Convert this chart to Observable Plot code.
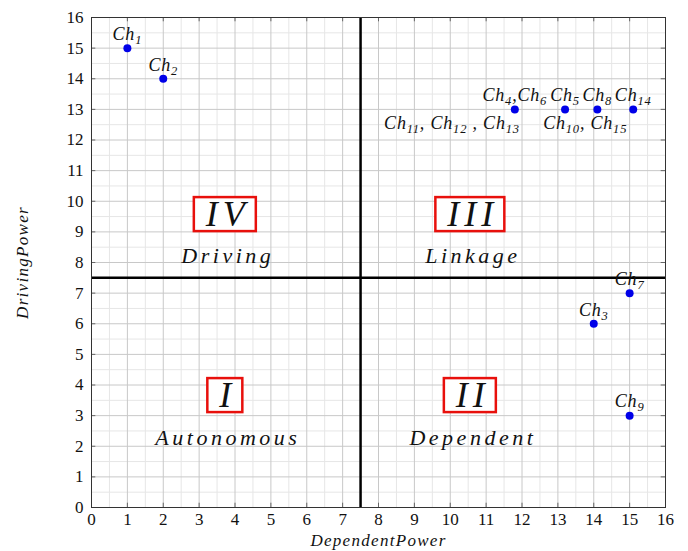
<!DOCTYPE html>
<html><head><meta charset="utf-8">
<script src="https://cdn.jsdelivr.net/npm/d3@7"></script>
<script src="https://cdn.jsdelivr.net/npm/@observablehq/plot@0.6"></script>
<style>
body{margin:0;background:#fff;}
#chart{width:688px;height:551px;}
</style></head><body><div id="chart"></div>
<script>
// ---- data ----
const chLabels      = ["Ch1","Ch2","Ch3","Ch4,Ch6","Ch5","Ch7","Ch8","Ch9","Ch14"];
const dependentPower = [1, 2, 14, 11.8, 13.2, 15, 14.1, 15, 15.1];
const drivingPower   = [15, 14, 6, 13, 13, 7, 13, 3, 13];

const sharedLabels = ["Ch11, Ch12 , Ch13", "Ch10, Ch15"];
const sharedX = [11.8, 15.1];
const sharedY = [13, 13];

const quadrantNumerals = ["IV", "III", "I", "II"];
const quadrantNames    = ["Driving", "Linkage", "Autonomous", "Dependent"];
const quadrantX        = [3.8, 10.63, 3.8, 10.63];
const numeralY         = [9.57, 9.57, 3.66, 3.66];
const nameY            = [8.2, 8.2, 2.28, 2.28];

const threshold = 7.5;
const majorTicks = [0,1,2,3,4,5,6,7,8,9,10,11,12,13,14,15,16];
const minorTicks = [0.5,1.5,2.5,3.5,4.5,5.5,6.5,7.5,8.5,9.5,10.5,11.5,12.5,13.5,14.5,15.5];
const xLabel = "DependentPower";
const yLabel = "DrivingPower";

const points = chLabels.map((t, i) => ({t, x: dependentPower[i], y: drivingPower[i]}));
const shared = sharedLabels.map((t, i) => ({t, x: sharedX[i], y: sharedY[i]}));
const quads = quadrantNumerals.map((n, i) => ({n, name: quadrantNames[i], x: quadrantX[i], ny: numeralY[i], my: nameY[i]}));

const serif = "'Liberation Serif', 'DejaVu Serif', serif";
const ink = "#111";

const chart = Plot.plot({
  width: 688, height: 551,
  marginLeft: 91, marginRight: 23, marginTop: 17, marginBottom: 44,
  style: {fontFamily: serif, fontSize: "17px", background: "white", color: "black"},
  x: {domain: [0, 16], label: null},
  y: {domain: [0, 16], label: null},
  marks: [
    Plot.ruleX(minorTicks, {stroke: "#e6e6e6"}),
    Plot.ruleY(minorTicks, {stroke: "#e6e6e6"}),
    Plot.ruleX(majorTicks, {stroke: "#c8c8c8"}),
    Plot.ruleY(majorTicks, {stroke: "#c8c8c8"}),
    Plot.ruleX(majorTicks, {x: d => d, y1: 0, y2: 0.14, stroke: "#666"}),
    Plot.ruleX(majorTicks, {x: d => d, y1: 16, y2: 15.86, stroke: "#666"}),
    Plot.ruleY(majorTicks, {y: d => d, x1: 0, x2: 0.12, stroke: "#666"}),
    Plot.ruleY(majorTicks, {y: d => d, x1: 16, x2: 15.88, stroke: "#666"}),
    Plot.axisX(majorTicks, {tickSize: 0, tickPadding: 5, fontSize: 17, fill: ink}),
    Plot.axisY(majorTicks, {tickSize: 0, tickPadding: 8, fontSize: 17, fill: ink}),
    Plot.ruleX([threshold], {stroke: "black", strokeWidth: 2.5}),
    Plot.ruleY([threshold], {stroke: "black", strokeWidth: 2.5}),
    Plot.frame({stroke: "#333"}),
    Plot.dot(points, {x: "x", y: "y", r: 4, fill: "#0000e8", stroke: "none"}),
    Plot.text(points, {x: "x", y: "y", text: "t", dy: -14, fontSize: 18, fontStyle: "italic", fill: ink}),
    Plot.text(shared.slice(0, 1), {x: "x", y: "y", text: "t", dx: 5, dy: 14, fontSize: 18, fontStyle: "italic", textAnchor: "end", fill: ink}),
    Plot.text(shared.slice(1), {x: "x", y: "y", text: "t", dx: -6, dy: 14, fontSize: 18, fontStyle: "italic", textAnchor: "end", fill: ink}),
    Plot.text(quads, {x: "x", y: "ny", text: "n", fontSize: 36, fontStyle: "italic", fill: ink}),
    Plot.text(quads, {x: "x", y: "my", text: "name", fontSize: 22, fontStyle: "italic", fill: ink}),
    Plot.text([xLabel], {frameAnchor: "bottom", text: d => d, dy: 33, lineAnchor: "middle", fontSize: 17, fontStyle: "italic", fill: ink}),
    Plot.text([yLabel], {frameAnchor: "left", text: d => d, rotate: -90, dx: -69, textAnchor: "middle", lineAnchor: "middle", fontSize: 17, fontStyle: "italic", fill: ink})
  ]
});
document.getElementById("chart").appendChild(chart);

const svg = d3.select(chart);
// letter spacing for math-italic look
svg.selectAll("text").each(function() {
  const txt = this.textContent;
  if (txt === xLabel || txt === yLabel) this.setAttribute("letter-spacing", "1.3");
  if (quadrantNames.includes(txt)) this.setAttribute("letter-spacing", "3.5");
});
// subscripts for Ch labels
svg.selectAll("text").each(function() {
  const txt = this.textContent;
  if (!/^Ch\d/.test(txt)) return;
  const el = d3.select(this);
  el.attr("letter-spacing", "0.8");
  el.text(null);
  const parts = txt.split(/(\d+)/).filter(p => p.length);
  let lowered = false;
  parts.forEach(p => {
    if (/^\d+$/.test(p)) {
      el.append("tspan").attr("font-size", 12.5).attr("dy", 4).text(p);
      lowered = true;
    } else {
      const t = el.append("tspan").text(p);
      if (lowered) { t.attr("dy", -4); lowered = false; }
    }
  });
});
// red boxes around quadrant numerals
svg.selectAll("text").each(function() {
  const txt = this.textContent;
  if (!quadrantNumerals.includes(txt)) return;
  this.setAttribute("letter-spacing", "5");
  const bb = this.getBBox();
  const tw = bb.width - 5;
  const cx = bb.x + tw / 2;
  const cy = bb.y + 0.56 * 36;
  const w = tw + 22, h = 34;
  const r = d3.select(this.parentNode).insert("rect", () => this)
    .attr("x", cx - w / 2).attr("y", cy - h / 2)
    .attr("width", w).attr("height", h)
    .attr("fill", "white").attr("stroke", "#e8100c").attr("stroke-width", 2.5);
  const tr = this.getAttribute("transform");
  if (tr) r.attr("transform", tr);
});
</script></body></html>
